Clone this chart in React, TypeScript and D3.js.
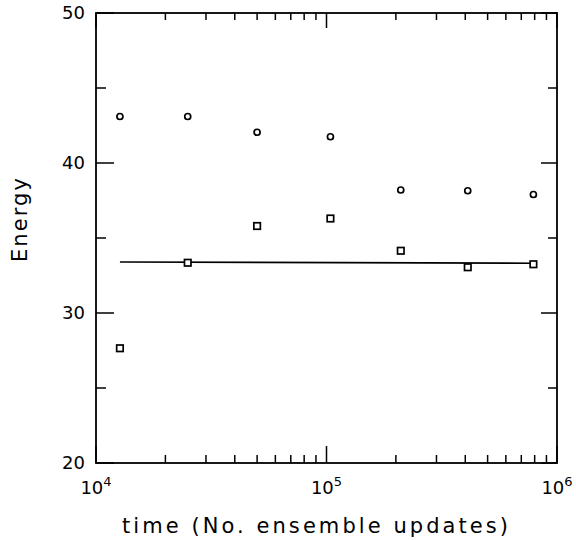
import * as d3 from "d3";
import { useEffect, useRef } from "react";

// values
const times = [1.27e4, 2.5e4, 5.0e4, 1.04e5, 2.1e5, 4.1e5, 7.9e5];
const circleEnergy = [43.1, 43.1, 42.05, 41.75, 38.2, 38.15, 37.9];
const squareEnergy = [27.65, 33.35, 35.8, 36.3, 34.15, 33.05, 33.25];
const fitTimes = [1.27e4, 7.9e5];
const fitEnergy = [33.4, 33.32];
const yTicks = [20, 30, 40, 50];
const xDecades = [1e4, 1e5, 1e6];

const W = 576;
const H = 540;
const FONT = "'DejaVu Sans', sans-serif";

export default function App() {
  const ref = useRef(null);

  useEffect(() => {
    const el = ref.current;
    if (!el) return;
    document.body.style.margin = "0";
    el.innerHTML = "";

    const left = 96, right = 557, top = 13, bottom = 463;

    const x = d3.scaleLog().domain([1e4, 1e6]).range([left, right]);
    const y = d3.scaleLinear().domain([20, 50]).range([bottom, top]);

    const svg = d3.select(el)
      .append("svg")
      .attr("width", W)
      .attr("height", H)
      .style("display", "block")
      .style("background", "#fff");

    // frame
    svg.append("rect")
      .attr("x", left).attr("y", top)
      .attr("width", right - left).attr("height", bottom - top)
      .attr("fill", "none").attr("stroke", "#000").attr("stroke-width", 1.8);

    const g = svg.append("g").attr("stroke", "#000").attr("stroke-width", 1.5);

    // y ticks (major every 10, minor every 5), inward on both sides
    const yAll = d3.range(20, 51, 5);
    yAll.forEach((v) => {
      const major = v % 10 === 0;
      g.append("line")
        .attr("x1", left).attr("x2", left + (major ? 18 : 10))
        .attr("y1", y(v)).attr("y2", y(v));
      g.append("line")
        .attr("x1", right).attr("x2", right - (major ? 16 : 9))
        .attr("y1", y(v)).attr("y2", y(v));
    });

    // x ticks: decades major, 2..9 minor
    const xAll = [];
    [1e4, 1e5].forEach((d) => {
      for (let k = 1; k < 10; k++) xAll.push(d * k);
    });
    xAll.push(1e6);
    xAll.forEach((v) => {
      const major = xDecades.includes(v);
      g.append("line")
        .attr("x1", x(v)).attr("x2", x(v))
        .attr("y1", bottom).attr("y2", bottom - (major ? 17 : 8));
      g.append("line")
        .attr("x1", x(v)).attr("x2", x(v))
        .attr("y1", top).attr("y2", top + (major ? 15 : 7));
    });

    // y tick labels
    svg.append("g")
      .selectAll("text")
      .data(yTicks)
      .join("text")
      .attr("x", left - 11)
      .attr("y", (d) => y(d))
      .attr("dy", "0.36em")
      .attr("text-anchor", "end")
      .style("font-family", FONT)
      .style("font-size", "18px")
      .text((d) => d);

    // x tick labels 10^n
    const xl = svg.append("g")
      .selectAll("text")
      .data(xDecades)
      .join("text")
      .attr("x", (d) => x(d))
      .attr("y", 494)
      .attr("text-anchor", "middle")
      .style("font-family", FONT)
      .style("font-size", "18px");
    xl.append("tspan").text("10");
    xl.append("tspan")
      .attr("dy", -8)
      .style("font-size", "13px")
      .text((d) => Math.round(Math.log10(d)));

    // axis titles
    svg.append("text")
      .attr("x", 315)
      .attr("y", 533)
      .attr("text-anchor", "middle")
      .attr("textLength", 386)
      .attr("lengthAdjust", "spacing")
      .style("font-family", FONT)
      .style("font-size", "21px")
      .text("time (No. ensemble updates)");

    svg.append("text")
      .attr("transform", `translate(27, 220) rotate(-90)`)
      .attr("text-anchor", "middle")
      .attr("textLength", 84)
      .attr("lengthAdjust", "spacing")
      .style("font-family", FONT)
      .style("font-size", "21px")
      .text("Energy");

    // fitted line
    const line = d3.line()
      .x((d) => x(d[0]))
      .y((d) => y(d[1]));
    svg.append("path")
      .attr("d", line(fitTimes.map((t, i) => [t, fitEnergy[i]])))
      .attr("fill", "none")
      .attr("stroke", "#000")
      .attr("stroke-width", 1.6);

    // circles
    svg.append("g")
      .selectAll("circle")
      .data(times.map((t, i) => [t, circleEnergy[i]]))
      .join("circle")
      .attr("cx", (d) => x(d[0]))
      .attr("cy", (d) => y(d[1]))
      .attr("r", 3)
      .attr("fill", "#fff")
      .attr("stroke", "#000")
      .attr("stroke-width", 1.7);

    // squares
    const s = 6.5;
    svg.append("g")
      .selectAll("rect")
      .data(times.map((t, i) => [t, squareEnergy[i]]))
      .join("rect")
      .attr("x", (d) => x(d[0]) - s / 2)
      .attr("y", (d) => y(d[1]) - s / 2)
      .attr("width", s)
      .attr("height", s)
      .attr("fill", "#fff")
      .attr("stroke", "#000")
      .attr("stroke-width", 1.7);
  }, []);

  return <div ref={ref} />;
}
